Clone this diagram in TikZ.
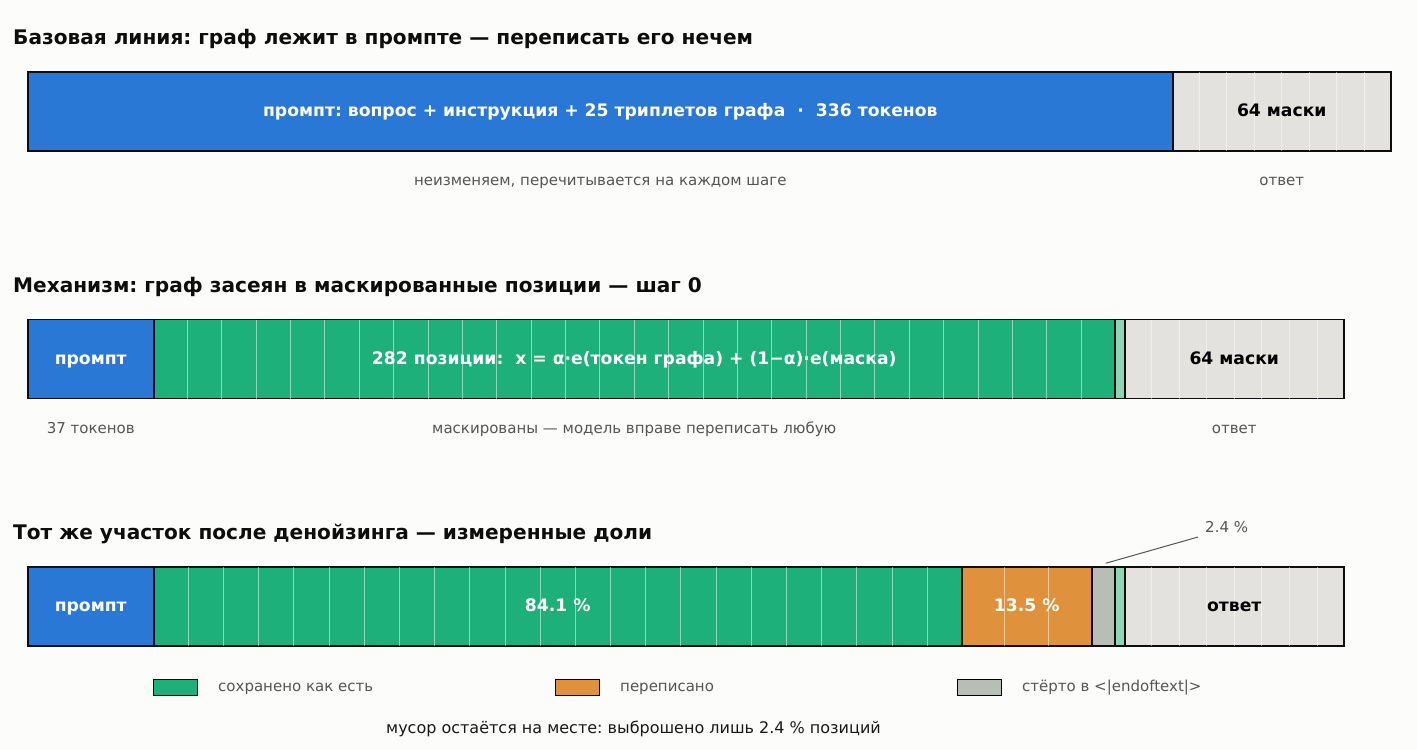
\documentclass[tikz,border=0pt]{standalone}
\usepackage{fontspec}
\setmainfont{DejaVu Sans}
\usepackage{xcolor}
\usetikzlibrary{calc}
\frenchspacing
\definecolor{bgcol}{HTML}{FCFCFA}
\definecolor{promptblue}{HTML}{2A78D6}
\definecolor{keepgreen}{HTML}{1DB07B}
\definecolor{rewriteorange}{HTML}{E0913B}
\definecolor{erasegray}{HTML}{B8BDB6}
\definecolor{slivergreen}{HTML}{8FD4B5}
\definecolor{maskgray}{HTML}{E3E2DE}
\definecolor{capgray}{HTML}{555555}

\begin{document}
\begin{tikzpicture}[x=1pt,y=-1pt,
    seg/.style={draw=black!95, line width=1.5pt, minimum height=79pt, inner sep=0pt, anchor=west},
    gridline/.style={white, opacity=0.5, line width=0.9pt, shorten >=0.75pt, shorten <=0.75pt},
    title/.style={anchor=base west, inner sep=0pt, text=black!95, font=\bfseries\fontsize{20.1}{23}\selectfont},
    barlabel/.style={anchor=base, yshift=-5pt, inner sep=0pt, font=\bfseries\fontsize{17.2}{20}\selectfont},
    caption/.style={anchor=base, inner sep=0pt, text=capgray, font=\fontsize{15}{18}\selectfont},
    legbox/.style={draw=black, line width=1pt, minimum width=44pt, minimum height=16pt, inner sep=0pt}]
    \fill[bgcol] (0,0) rectangle (1417,750);
    \useasboundingbox (0,0) rectangle (1417,750);

    % baseline: the whole graph sits in the prompt
    \node[title] (h1) at (13,44) {Базовая линия: граф лежит в промпте — переписать его нечем};
    \node[seg, fill=promptblue, minimum width=1145pt] (p1) at (27,111.5) {};
    \node[seg, fill=maskgray, minimum width=218pt] (m1) at (1172,111.5) {};
    \foreach \k in {1,...,7}
      \draw[gridline] ($(m1.north west)!\k/8!(m1.north east)$) -- ($(m1.south west)!\k/8!(m1.south east)$);
    \node[barlabel, text=white] (t1) at (p1.center) {промпт: вопрос + инструкция + 25 триплетов графа~~·~~336 токенов};
    \node[barlabel, text=black] (t1m) at (m1.center) {64 маски};
    \node[caption] (c1) at ($(p1.center)+(0,74)$) {неизменяем, перечитывается на каждом шаге};
    \node[caption] (c1m) at ($(m1.center)+(0,74)$) {ответ};

    % mechanism: graph seeded into masked positions
    \node[title] (h2) at (13,292) {Механизм: граф засеян в маскированные позиции — шаг 0};
    \node[seg, fill=promptblue, minimum width=126pt] (p2) at (27,359) {};
    \node[seg, fill=keepgreen, minimum width=961pt] (g2) at (153,359) {};
    \node[seg, fill=slivergreen, minimum width=10pt] (s2) at (1114,359) {};
    \node[seg, fill=maskgray, minimum width=219pt] (m2) at (1124,359) {};
    \foreach \k in {1,...,27}
      \draw[gridline] ($(g2.north west)!\k/28!(g2.north east)$) -- ($(g2.south west)!\k/28!(g2.south east)$);
    \foreach \k in {1,...,7}
      \draw[gridline] ($(m2.north west)!\k/8!(m2.north east)$) -- ($(m2.south west)!\k/8!(m2.south east)$);
    \node[barlabel, text=white] (t2p) at (p2.center) {промпт};
    \node[barlabel, text=white] (t2g) at (g2.center) {282 позиции:~~x = α·e(токен графа) + (1−α)·e(маска)};
    \node[barlabel, text=black] (t2m) at (m2.center) {64 маски};
    \node[caption] (c2p) at ($(p2.center)+(0,74)$) {37 токенов};
    \node[caption] (c2g) at ($(g2.center)+(0,74)$) {маскированы — модель вправе переписать любую};
    \node[caption] (c2m) at ($(m2.center)+(0,74)$) {ответ};

    % after denoising: measured shares
    \node[title] (h3) at (13,539) {Тот же участок после денойзинга — измеренные доли};
    \node[seg, fill=promptblue, minimum width=126pt] (p3) at (27,606.5) {};
    \node[seg, fill=keepgreen, minimum width=808pt] (g3) at (153,606.5) {};
    \node[seg, fill=rewriteorange, minimum width=130pt] (o3) at (961,606.5) {};
    \node[seg, fill=erasegray, minimum width=23pt] (e3) at (1091,606.5) {};
    \node[seg, fill=slivergreen, minimum width=10pt] (s3) at (1114,606.5) {};
    \node[seg, fill=maskgray, minimum width=219pt] (m3) at (1124,606.5) {};
    \foreach \k in {1,...,22}
      \draw[gridline] ($(g3.north west)!\k/23!(g3.north east)$) -- ($(g3.south west)!\k/23!(g3.south east)$);
    \foreach \k in {1,2}
      \draw[gridline] ($(o3.north west)!\k/3!(o3.north east)$) -- ($(o3.south west)!\k/3!(o3.south east)$);
    \foreach \k in {1,...,7}
      \draw[gridline] ($(m3.north west)!\k/8!(m3.north east)$) -- ($(m3.south west)!\k/8!(m3.south east)$);
    \node[barlabel, text=white] (t3p) at (p3.center) {промпт};
    \node[barlabel, text=white] (t3g) at (g3.center) {84.1 \%};
    \node[barlabel, text=white] (t3o) at (o3.center) {13.5 \%};
    \node[barlabel, text=black] (t3m) at (m3.center) {ответ};
    \coordinate (k3) at (1198,537);
    \node[caption, anchor=base west] (n3) at (1205,532) {2.4 \%};
    \draw[capgray, line width=1pt] ($(e3.north)+(2.5,-3)$) -- (k3);

    % legend
    \node[legbox, fill=keepgreen] (lg1) at (175,687) {};
    \node[caption, anchor=base west] (lt1) at (218,691.5) {сохранено как есть};
    \node[legbox, fill=rewriteorange] (lg2) at (577,687) {};
    \node[caption, anchor=base west] (lt2) at (620,691.5) {переписано};
    \node[legbox, fill=erasegray] (lg3) at (979.5,687) {};
    \node[caption, anchor=base west] (lt3) at (1022,691.5) {стёрто в <|endoftext|>};
    \node[caption, text=black!90, font=\fontsize{16}{19}\selectfont] (ft) at (633.5,733) {мусор остаётся на месте: выброшено лишь 2.4 \% позиций};
\end{tikzpicture}
\end{document}
